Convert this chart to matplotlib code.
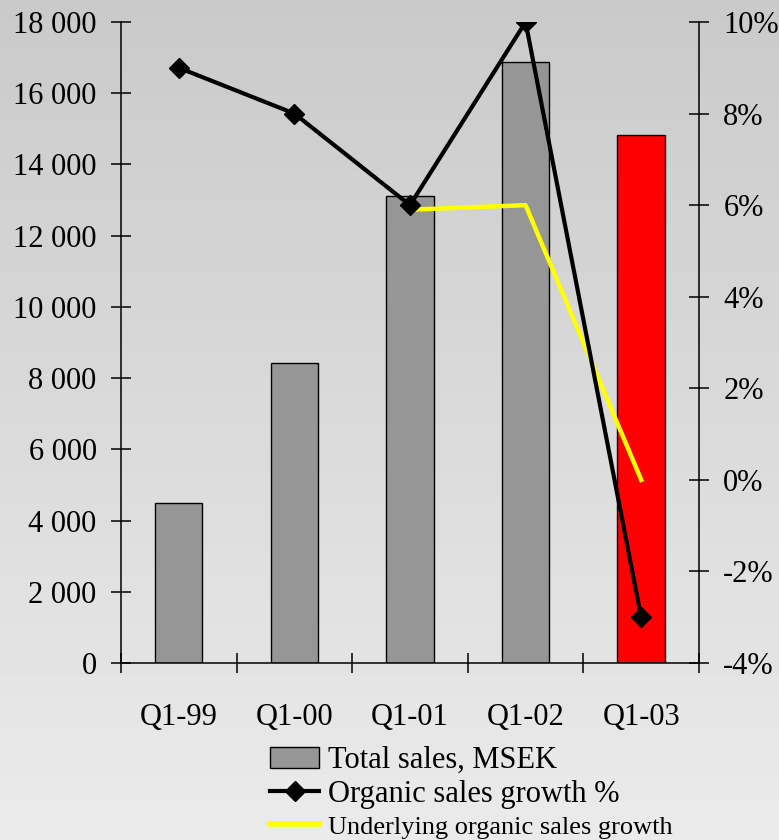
import numpy as np
import matplotlib
matplotlib.use('Agg')
import matplotlib.pyplot as plt
from matplotlib.ticker import FixedLocator, FuncFormatter
from matplotlib.patches import Patch
from matplotlib.lines import Line2D

quarters = ['Q1-99', 'Q1-00', 'Q1-01', 'Q1-02', 'Q1-03']
total_sales = [4490, 8420, 13110, 16880, 14830]
bar_colors = ['#969696', '#969696', '#969696', '#969696', '#ff0000']
organic_growth = [9, 8, 6, 10, -3]
underlying_quarters = ['Q1-01', 'Q1-02', 'Q1-03']
underlying_growth = [5.9, 6.0, 0.0]

plt.rcParams['font.family'] = ['Liberation Serif', 'DejaVu Serif']

fig = plt.figure(figsize=(7.79, 8.4), dpi=100)

# soft vertical gradient behind everything
bg = fig.add_axes([0, 0, 1, 1], zorder=-10)
grad = np.linspace(0.79, 0.92, 256).reshape(-1, 1)
bg.imshow(grad, cmap='gray', vmin=0, vmax=1, aspect='auto', extent=[0, 1, 1, 0])
bg.axis('off')

ax = fig.add_axes([0.1553, 0.2107, 0.742, 0.7631])
ax.patch.set_alpha(0)
x = np.arange(len(quarters))
ax.bar(x, total_sales, width=0.41, color=bar_colors, edgecolor='black', linewidth=1.0, zorder=2)
ax.set_xlim(-0.5, len(quarters) - 0.5)
ax.set_ylim(0, 18000)
ax.yaxis.set_major_locator(FixedLocator(np.arange(0, 18001, 2000)))
ax.yaxis.set_major_formatter(FuncFormatter(lambda v, p: f"{int(v):,}".replace(',', ' ')))

ax.xaxis.set_major_locator(FixedLocator(np.arange(-0.5, len(quarters), 1.0)))
ax.xaxis.set_major_formatter(FuncFormatter(lambda v, p: ''))
ax.xaxis.set_minor_locator(FixedLocator(x))
ax.xaxis.set_minor_formatter(FuncFormatter(lambda v, p: quarters[int(round(v))]))
ax.tick_params(axis='x', which='minor', length=0, pad=29, labelsize=22)
ax.tick_params(axis='x', which='major', direction='inout', length=15, width=1.1)
ax.tick_params(axis='y', direction='inout', length=15, width=1.1, pad=10, labelsize=22)

for s in ['top', 'right']:
    ax.spines[s].set_visible(False)
for s in ['left', 'bottom']:
    ax.spines[s].set_linewidth(1.1)

ax2 = ax.twinx()
ax2.set_ylim(-4, 10)
ax2.yaxis.set_major_locator(FixedLocator(np.arange(-4, 10.1, 2)))
ax2.yaxis.set_major_formatter(FuncFormatter(lambda v, p: f"{int(round(v))}%"))
ax2.tick_params(axis='y', direction='inout', length=15, width=1.1, pad=10, labelsize=22)
for s in ['top', 'left', 'bottom']:
    ax2.spines[s].set_visible(False)
ax2.spines['right'].set_linewidth(1.1)

ux = [quarters.index(q) for q in underlying_quarters]
ax2.plot(ux, underlying_growth, color='#ffff00', linewidth=3.2, zorder=3)
ax2.plot(x, organic_growth, color='black', linewidth=3.0, marker='D', markersize=10, zorder=4)

handles = [
    Patch(facecolor='#969696', edgecolor='black', linewidth=1.0),
    Line2D([], [], color='black', linewidth=3.0, marker='D', markersize=10),
    Line2D([], [], color='#ffff00', linewidth=4.0),
]
labels = ['Total sales, MSEK', 'Organic sales growth %', 'Underlying organic sales growth']
leg = fig.legend(handles, labels, loc='upper left', bbox_to_anchor=(0.347, 0.112),
                 frameon=False, fontsize=22, handlelength=1.6, handletextpad=0.3,
                 labelspacing=0.15, borderaxespad=0, borderpad=0)
leg.get_texts()[2].set_fontsize(19)

fig.savefig('out.png', dpi=100)
